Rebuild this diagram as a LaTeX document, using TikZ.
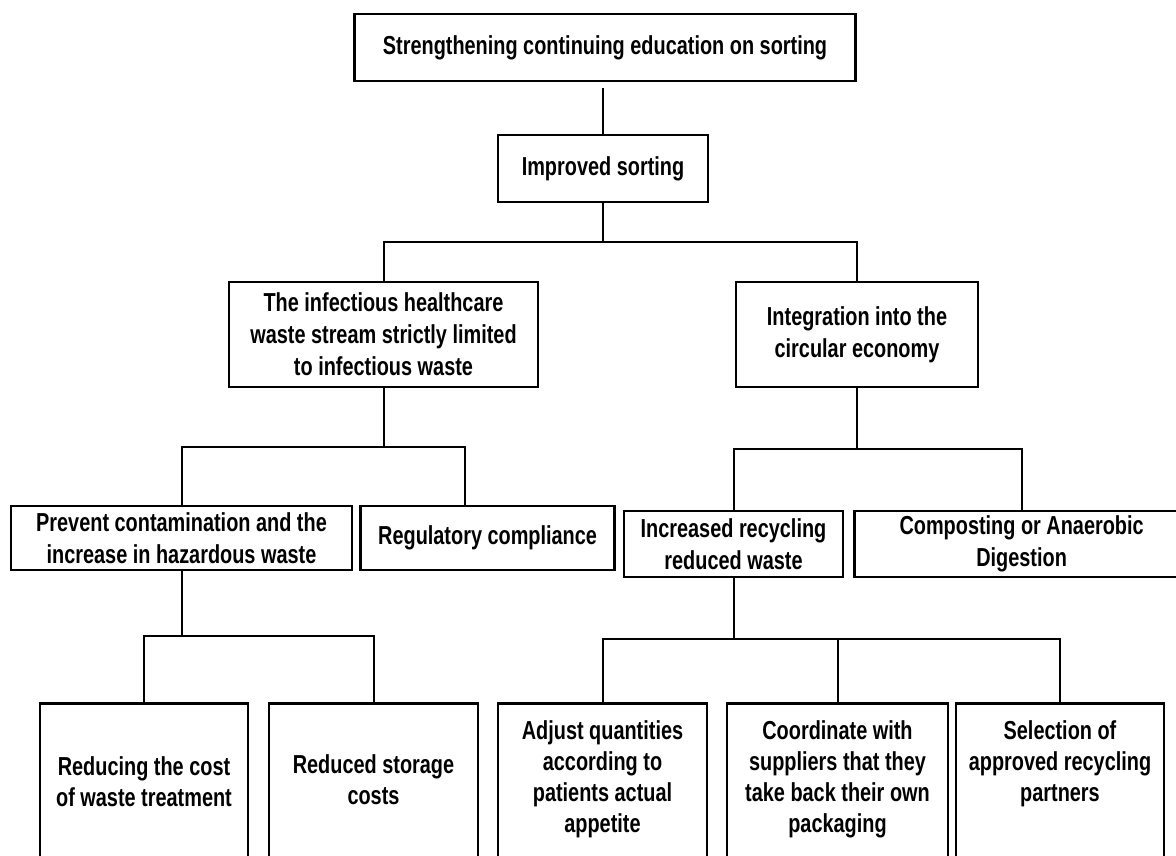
\documentclass[tikz,border=0pt]{standalone}
\usepackage{fontspec}
\newfontfamily\boxfont{Liberation Sans}[FakeStretch=0.765]
\usetikzlibrary{positioning}

\newcommand{\leaftext}[2]{\parbox[t][190pt][t]{204pt}{\centering\vspace*{#1}#2}}

\begin{document}
\begin{tikzpicture}[x=1pt,y=-1pt,
       box/.style={draw,line width=2.6pt,align=center,inner sep=2pt,
          font={\boxfont\bfseries\fontsize{26}{32}\selectfont}},
       leaf/.style={box,anchor=north,inner xsep=0pt,inner ysep=17pt,
          font={\boxfont\bfseries\fontsize{26}{31}\selectfont}},
       node distance=6pt]

    \tikzstyle{link}=[draw,line width=2pt]

    \path[use as bounding box,clip] (0,0) rectangle (1176,855);

    \node[box,minimum width=501pt,minimum height=67pt] (educ) at (605,47.5) {Strengthening continuing education on sorting};
    \node[box,minimum width=210pt,minimum height=67pt] (sort) at (603,168.5) {Improved sorting};

    \node[box,minimum width=309pt,minimum height=105pt] (infect) at (383.5,334.5) {The infectious healthcare\\waste stream strictly limited\\to infectious waste};
    \node[box,minimum width=242pt,minimum height=105pt] (circ) at (857,334.5) {Integration into the\\circular economy};

    \node[box,minimum width=341pt,minimum height=64pt] (prev) at (181.5,538) {Prevent contamination and the\\increase in hazardous waste};
    \node[box,minimum width=254pt,minimum height=64pt,right=of prev] (reg) {Regulatory compliance};
    \node[box,minimum width=219pt,minimum height=66pt] (inc) at (733.5,544) {Increased recycling\\reduced waste};
    \node[box,minimum width=334pt,minimum height=66pt,right=9pt of inc] (comp) {Composting or Anaerobic\\Digestion};

    % bottom row, cut by the page
    \node[leaf,minimum width=208pt] (cost) at (144,702) {\leaftext{36pt}{Reducing the cost\\of waste treatment}};
    \node[leaf,minimum width=209pt] (store) at (373.5,702) {\leaftext{34pt}{Reduced storage\\costs}};
    \node[leaf,minimum width=209pt] (adj) at (602.5,702) {\leaftext{0pt}{Adjust quantities\\according to\\patients actual\\appetite}};
    \node[leaf,minimum width=221pt] (coord) at (837.5,702) {\leaftext{0pt}{Coordinate with\\suppliers that they\\take back their own\\packaging}};
    \node[leaf,minimum width=208pt] (sel) at (1060,702) {\leaftext{0pt}{Selection of\\approved recycling\\partners}};

    \coordinate (j1) at (603,242);
    \coordinate (j2) at (383.5,447);
    \coordinate (j2r) at (465,447);
    \coordinate (j3) at (857,449);
    \coordinate (j4) at (181.5,636);
    \coordinate (j5) at (733.5,639);

    \draw[link,shorten <=6pt] (sort.north |- educ.south) -- (sort.north);
    \draw[link] (sort.south) -- (j1);
    \draw[link] (infect.north) |- (j1) -| (circ.north);

    \draw[link] (infect.south) -- (j2);
    \draw[link] (prev.north) |- (j2r) -- (j2r |- reg.north);
    \draw[link] (circ.south) -- (j3);
    \draw[link] (inc.north) |- (j3) -| (comp.north);

    \draw[link] (prev.south) -- (j4);
    \draw[link] (cost.north) |- (j4) -| (store.north);
    \draw[link] (inc.south) -- (j5);
    \draw[link] (adj.north) |- (j5) -| (sel.north);
    \draw[link] (coord.north) -- (coord.north |- j5);

\end{tikzpicture}
\end{document}
